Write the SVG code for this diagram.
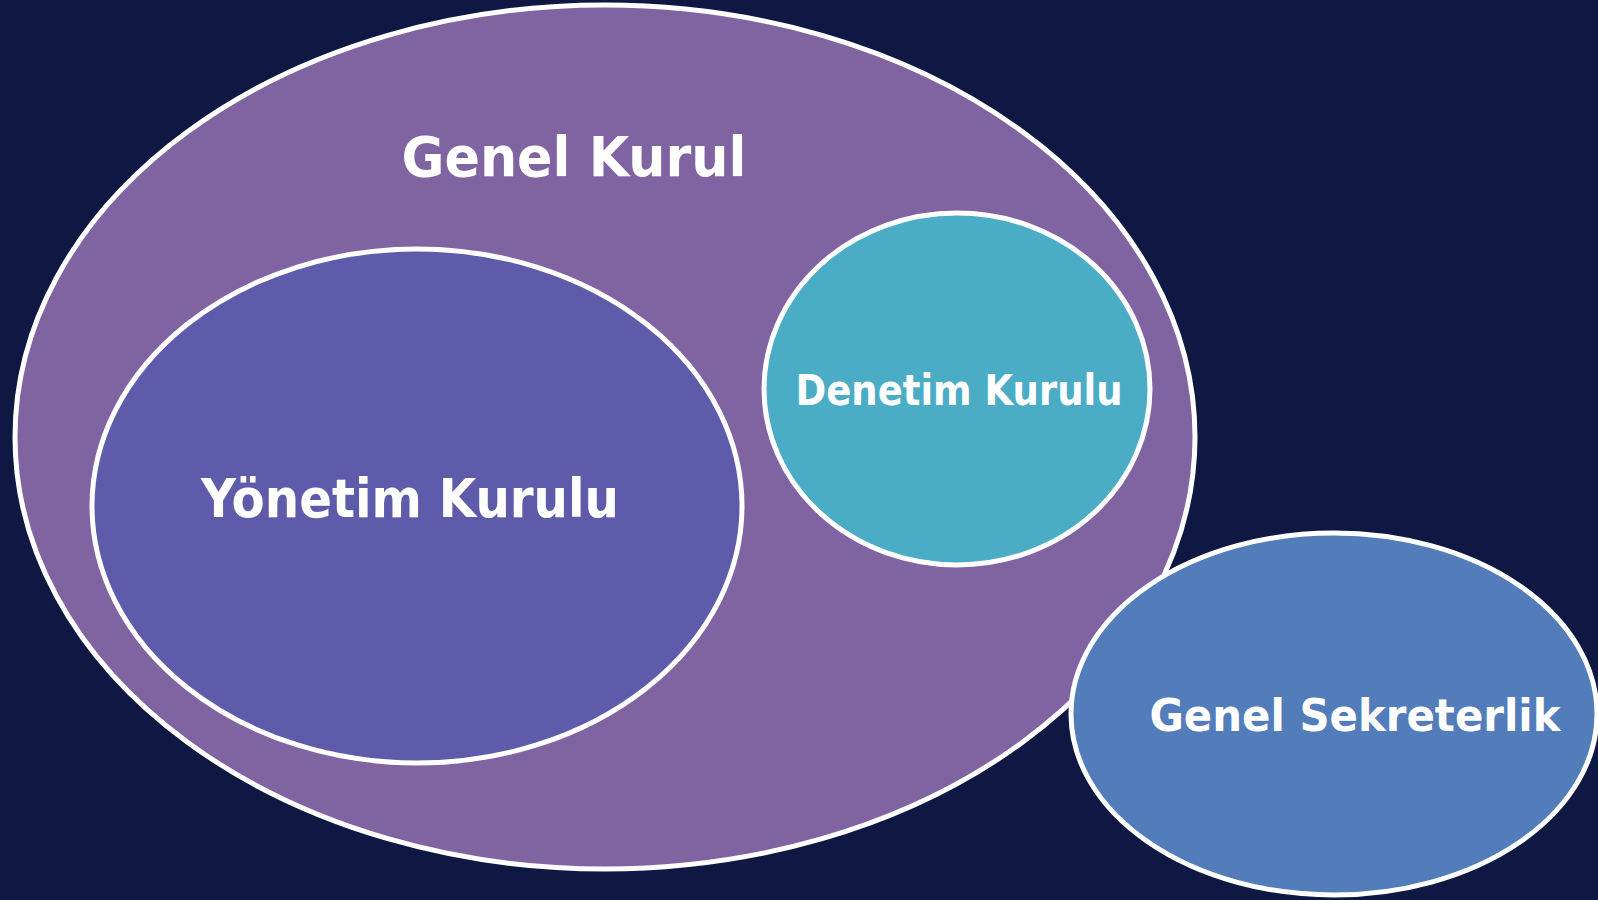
<svg xmlns="http://www.w3.org/2000/svg" width="1598" height="900" viewBox="0 0 1598 900">
<style>
.node{stroke:#ffffff;stroke-width:5}
.lbl{font-family:"DejaVu Sans","Liberation Sans",sans-serif;font-weight:bold;fill:#ffffff;text-anchor:middle}
</style>
<rect x="0" y="0" width="1598" height="900" fill="#0E1843"/>
<g id="genel-kurul">
<ellipse class="node" cx="605" cy="437" rx="590" ry="432" fill="#8064A2"/>
<text class="lbl" x="574" y="176" font-size="55" textLength="345" lengthAdjust="spacingAndGlyphs">Genel Kurul</text>
</g>
<g id="yonetim-kurulu">
<ellipse class="node" cx="417" cy="506" rx="325" ry="257" fill="#5F5BAB"/>
<text class="lbl" x="410" y="517" font-size="53" textLength="418" lengthAdjust="spacingAndGlyphs">Yönetim Kurulu</text>
</g>
<g id="denetim-kurulu">
<ellipse class="node" cx="957" cy="389" rx="193" ry="176" fill="#4BACC6"/>
<text class="lbl" x="959" y="405" font-size="43" textLength="327" lengthAdjust="spacingAndGlyphs">Denetim Kurulu</text>
</g>
<g id="genel-sekreterlik">
<ellipse class="node" cx="1334" cy="714" rx="263" ry="181" fill="#537CBB"/>
<text class="lbl" x="1355" y="731" font-size="45" textLength="411" lengthAdjust="spacingAndGlyphs">Genel Sekreterlik</text>
</g>
<g id="connectors"></g>
</svg>
